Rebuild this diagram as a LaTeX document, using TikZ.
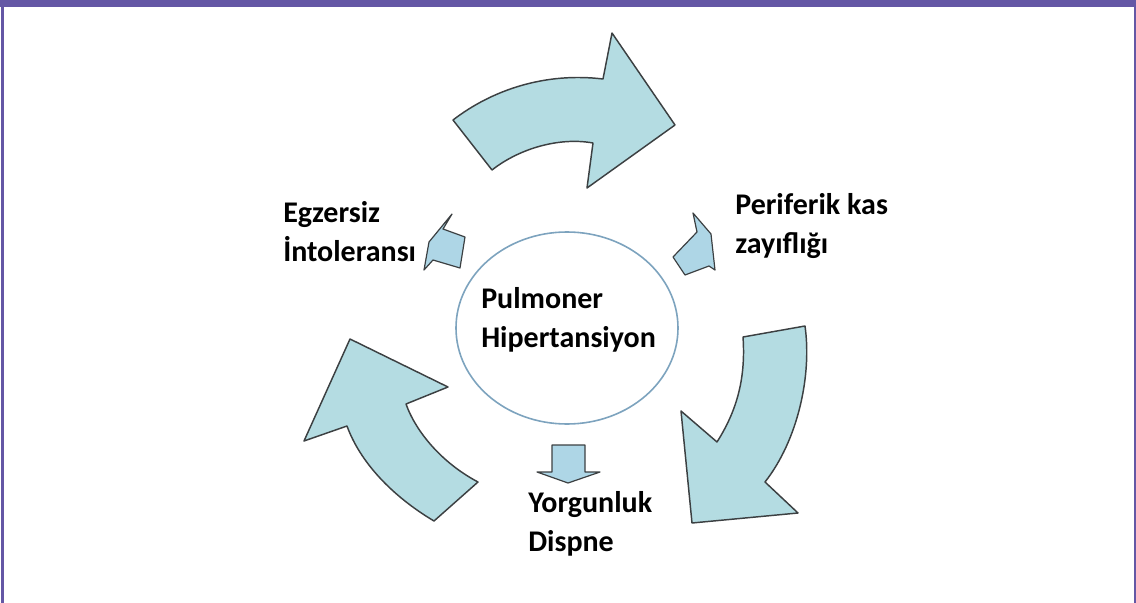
\documentclass[tikz,border=0pt]{standalone}
\usepackage{fontspec}
\setmainfont{Carlito}
\definecolor{cycFrame}{RGB}{100,87,165}
\definecolor{cycFill}{RGB}{180,220,226}
\definecolor{cycSmall}{RGB}{174,214,230}
\definecolor{cycEdge}{RGB}{60,64,66}
\definecolor{cycRing}{RGB}{125,163,190}
\tikzset{
  % the three large curved arrows of the cycle
  bigarrow/.style={fill=cycFill, draw=cycEdge, line width=1.1pt, line join=round},
  % the small block arrows round the ring
  smallarrow/.style={fill=cycSmall, draw=cycEdge, line width=0.9pt, line join=round},
  ring/.style={draw=cycRing, line width=1.2pt},
  % two-line labels, placed at the baseline of their last line
  lbl/.style={font=\bfseries\fontsize{22.5}{29}\selectfont, text=black,
              align=left, inner sep=0pt, anchor=base west},
  frame/.style={fill=cycFrame, draw=none},
}
\begin{document}
\begin{tikzpicture}[x=0.75pt, y=-0.75pt]
\useasboundingbox (0,0) rectangle (1136,603);

% ============================ frame ===================================
\fill[frame] (0,0) rectangle (1136,7);
\fill[frame] (1.5,7) rectangle (3.5,603);
\fill[frame] (1133.5,7) rectangle (1136,603);

% ========================== centre ring ===============================
\draw[ring] (567,328) ellipse [x radius=111, y radius=96];
\node[lbl] (ph) at (481,347) {Pulmoner\\Hipertansiyon};

% ======================= large cycle arrows ===========================
% top, pointing right
\draw[bigarrow] (453,120) .. controls (492,90) and (545,72) .. (603,79)
  -- (612,33) -- (675,125) -- (587,188) -- (593,143)
  .. controls (560,137) and (520,148) .. (492,170) -- cycle;
% right, pointing down-left
\draw[bigarrow] (743,337) -- (805,326)
  .. controls (812,375) and (798,440) .. (765,482)
  -- (798,513) -- (692,523) -- (681,411) -- (717,442)
  .. controls (736,412) and (746,380) .. (743,337) -- cycle;
% left, pointing up
\draw[bigarrow] (350,339) -- (448,387) -- (406,404)
  .. controls (416,432) and (442,463) .. (478,482)
  -- (434,521)
  .. controls (392,496) and (360,462) .. (347,426)
  -- (304,441) -- cycle;

% ======================= small arrows and labels ======================
\draw[smallarrow] (429,242) -- (452,214) -- (443,229) -- (465,237)
  -- (460,268) -- (433,260) -- (424,270) -- cycle;
\node[lbl] (egz) at (283,261) {Egzersiz\\İntoleransı};

\draw[smallarrow] (693,213) -- (711,234) -- (715,270) -- (709,266)
  -- (685,275) -- (673,257) -- (697,232) -- cycle;
\node[lbl] (per) at (735,253) {Periferik kas\\zayıflığı};

\draw[smallarrow] (552,445) -- (585,445) -- (585,472) -- (600,472)
  -- (568,483) -- (537,472) -- (552,472) -- cycle;
\node[lbl] (yor) at (528,551) {Yorgunluk\\Dispne};

\end{tikzpicture}
\end{document}
